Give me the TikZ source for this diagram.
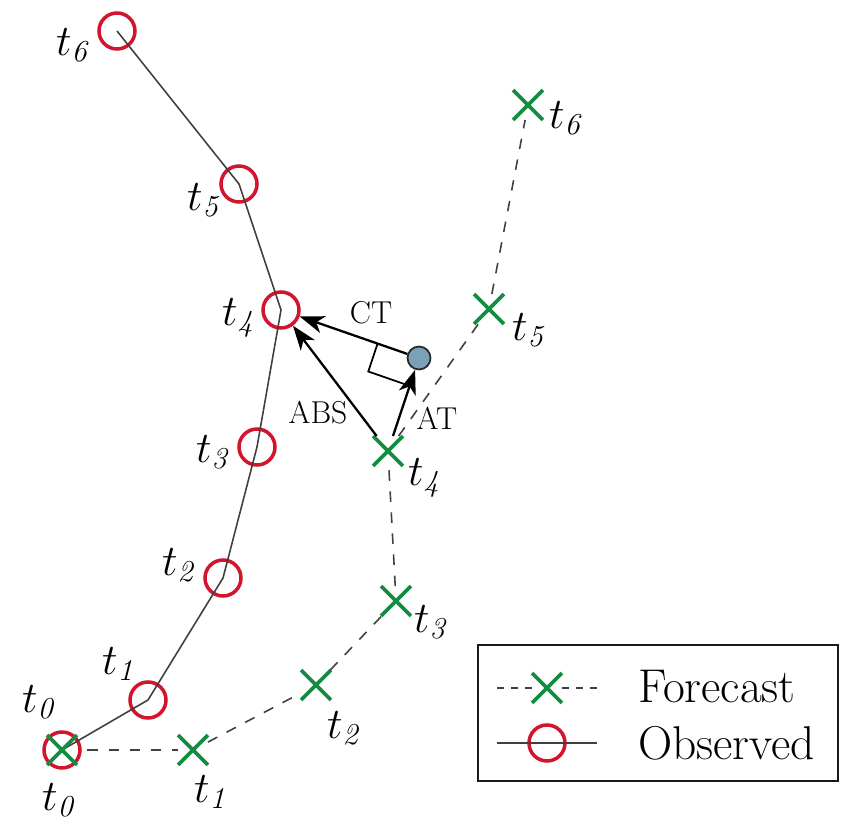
\documentclass[tikz,border=0pt]{standalone}
\usepackage{amsmath,amssymb}
\usepackage{xcolor}
\usepackage{tikz}
\usetikzlibrary{arrows.meta,calc,shapes.misc}

\definecolor{obsred}{RGB}{210,20,45}
\definecolor{fcgreen}{RGB}{20,140,65}
\definecolor{dotblue}{RGB}{125,160,185}

\newcommand{\tlab}[1]{$t_{\mathit{#1}}$}

\begin{document}
\begin{tikzpicture}[
  obs/.style={circle, draw=obsred, line width=2pt, minimum size=7.2mm, inner sep=0pt},
  fc/.style={cross out, draw=fcgreen, line width=2.2pt, minimum size=5.2mm, inner sep=0pt},
  obsline/.style={draw=black!75, line width=0.9pt},
  fcline/.style={draw=black!75, line width=0.9pt, dash pattern=on 6pt off 6pt},
  arr/.style={draw=black, line width=1.3pt, -{Stealth[length=14pt,width=10pt,inset=4pt]}},
  tl/.style={font=\fontsize{26}{30}\selectfont, inner sep=0pt},
  err/.style={font=\fontsize{18}{21}\selectfont, inner sep=0pt},
  legbox/.style={draw=black!90, line width=1.6pt, fill=white}
]
\useasboundingbox (0,0) rectangle (16.82,16.5);

% observed track
\node[obs] (obs0) at (1.24,1.50) {};
\node[obs] (obs1) at (2.96,2.50) {};
\node[obs] (obs2) at (4.46,4.94) {};
\node[obs] (obs3) at (5.14,7.56) {};
\node[obs] (obs4) at (5.62,10.30) {};
\node[obs] (obs5) at (4.78,12.82) {};
\node[obs] (obs6) at (2.34,15.88) {};
\draw[obsline] (obs0.center) -- (obs1.center) -- (obs2.center) -- (obs3.center)
  -- (obs4.center) -- (obs5.center) -- (obs6.center);

% forecast track
\node[fc] (fc0) at (1.24,1.50) {};
\node[fc] (fc1) at (3.86,1.50) {};
\node[fc] (fc2) at (6.32,2.80) {};
\node[fc] (fc3) at (7.92,4.48) {};
\node[fc] (fc4) at (7.76,7.48) {};
\node[fc] (fc5) at (9.78,10.32) {};
\node[fc] (fc6) at (10.56,14.40) {};
\draw[fcline, shorten <=6pt] (fc0) -- (fc1);
\draw[fcline] (fc1) -- (fc2);
\draw[fcline] (fc2) -- (fc3);
\draw[fcline] (fc3) -- (fc4);
\draw[fcline] (fc4) -- (fc5);
\draw[fcline] (fc5) -- (fc6);

% labels
\node[tl] (lo0) at ([shift={(-0.44,0.96)}]obs0) {\tlab{0}};
\node[tl] (lo1) at ([shift={(-0.56,0.72)}]obs1) {\tlab{1}};
\node[tl] (lo2) at ([shift={(-0.86,0.26)}]obs2) {\tlab{2}};
\node[tl] (lo3) at ([shift={(-0.86,-0.10)}]obs3) {\tlab{3}};
\node[tl] (lo4) at ([shift={(-0.82,-0.16)}]obs4) {\tlab{4}};
\node[tl] (lo5) at ([shift={(-0.68,-0.32)}]obs5) {\tlab{5}};
\node[tl] (lo6) at ([shift={(-0.86,-0.28)}]obs6) {\tlab{6}};
\node[tl] (lf0) at ([shift={(-0.04,-1.00)}]fc0) {\tlab{0}};
\node[tl] (lf1) at ([shift={(0.38,-0.84)}]fc1) {\tlab{1}};
\node[tl] (lf2) at ([shift={(0.58,-0.86)}]fc2) {\tlab{2}};
\node[tl] (lf3) at ([shift={(0.72,-0.42)}]fc3) {\tlab{3}};
\node[tl] (lf4) at ([shift={(0.76,-0.54)}]fc4) {\tlab{4}};
\node[tl] (lf5) at ([shift={(0.82,-0.42)}]fc5) {\tlab{5}};
\node[tl] (lf6) at ([shift={(0.78,-0.26)}]fc6) {\tlab{6}};

% error components
\coordinate (pc) at (8.38,9.34);
\draw[line width=1pt] ($(pc)!0.3!(obs4)$) -- ($($(pc)!0.3!(obs4)$)+($(pc)!0.3!(fc4)$)-(pc)$)
  -- ($(pc)!0.3!(fc4)$);
\node[circle, draw=black!85, fill=dotblue, line width=1pt, minimum size=4.6mm, inner sep=0pt] (p) at (pc) {};
\draw[arr] (fc4) -- (obs4);
\draw[arr] (p) -- (obs4);
\draw[arr] (fc4) -- (p);
\node[err] (ct) at (7.42,10.24) {CT};
\node[err] (abs) at (6.36,8.24) {ABS};
\node[err] (at) at (8.74,8.14) {AT};

% legend
\node[legbox, minimum width=7.2cm, minimum height=2.72cm] (leg) at (13.16,2.24) {};
\node[fc] (lgf) at (10.94,2.74) {};
\node[obs] (lgo) at (10.94,1.64) {};
\coordinate (lgfa) at (9.94,2.74);
\coordinate (lgfb) at (11.94,2.74);
\coordinate (lgoa) at (9.94,1.64);
\coordinate (lgob) at (11.94,1.64);
\draw[fcline, dash pattern=on 4pt off 4pt] (lgfa) -- (lgf);
\draw[fcline, dash pattern=on 4pt off 4pt] (lgf) -- (lgfb);
\draw[obsline, line width=1.2pt] (lgoa) -- (lgob);
\node[font=\fontsize{27}{31}\selectfont, anchor=west] (lgft) at (12.64,2.76) {Forecast};
\node[font=\fontsize{27}{31}\selectfont, anchor=west] (lgot) at (12.64,1.64) {Observed};
\end{tikzpicture}
\end{document}
